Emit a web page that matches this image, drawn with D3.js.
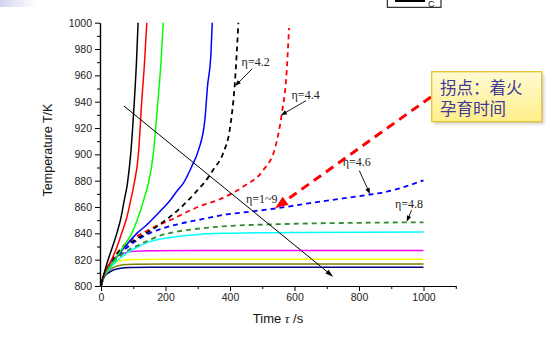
<!DOCTYPE html>
<html><head><meta charset="utf-8">
<script src="https://cdn.jsdelivr.net/npm/d3@7"></script>
<style>body{margin:0;background:#fff}svg{display:block}</style>
</head><body><svg id="c" width="559" height="340"></svg>
<script>
// ---- data: [time s, temperature K] ----
const blackSolid = [[0,800],[4,805],[10,810],[22,820],[36,830],[49,840],[62,852],[72,865],[82,878],[92,900],[103,939],[110,970],[115,1000]];
const redSolid = [[0,800],[5,805],[12,810],[33,820],[50,830],[64,840],[80,852],[92,865],[103,878],[116,900],[126,939],[135,970],[142,1000]];
const greenSolid = [[0,800],[5,805],[15,810],[43,820],[70,830],[95,840],[112,850],[126,860],[138,870],[147,878],[162,900],[176,939],[186,970],[193,1000]];
const blueSolid = [[0,800],[5,805],[15,810],[43,820],[84,832.7],[111,840],[140,846],[167,852.6],[192,859],[214,865],[235,872],[255,878],[281,890.6],[302,903],[322,926],[330,951],[341,977],[345,1000]];
const blackDashed = [[0,800],[10,808],[30,818],[60,827],[105,835],[146,841],[180,846.5],[214,852.6],[245,859],[270,865],[300,873],[322,879],[350,889],[379,901],[400,920],[415,954],[426,1000]];
const redDashed = [[0,800],[10,808],[30,818],[60,828],[100,836],[136,841],[175,846],[214,850],[260,855.5],[300,860],[369,866],[441,875.5],[503,888],[540,905],[560,930],[576,964],[583,996]];
const blueDashed = [[0,800],[10,808],[30,817],[60,825],[90,831],[116,835.5],[150,840],[188,843.5],[240,847],[307,850.5],[379,854],[462,856.5],[545,859],[648,863],[750,866.5],[834,869.5],[875,871],[937,875],[1000,880.3]];
const greenDashed = [[0,800],[10,808],[30,816],[60,823],[90,828],[116,831],[150,835],[188,838.7],[240,841.5],[300,843.5],[379,845.3],[555,847],[800,848],[1000,848.4]];
const cyanSolid = [[0,800],[8,806],[23,812],[45,818],[64,822],[90,826.5],[116,830],[150,833.5],[188,835.8],[250,838],[291,839],[379,840],[600,840.7],[1000,841]];
const magentaSolid = [[0,800],[6,806],[12,810],[33,819],[64,824.5],[100,826.3],[150,826.8],[300,826.9],[1000,826.9]];
const yellowSolid = [[0,800],[5,805],[12,809.5],[25,814],[45,817.5],[70,819.5],[100,820.2],[200,820.4],[1000,820.4]];
const oliveSolid = [[0,800],[5,804.5],[12,808.5],[25,812],[45,814.8],[70,816.2],[100,816.6],[200,816.7],[1000,816.7]];
const navySolid = [[0,800],[5,804],[12,807.5],[23,810],[40,812.3],[60,813.5],[90,814],[150,814.2],[1000,814.2]];

const yTicks = [800,820,840,860,880,900,920,940,960,980,1000];
const yMinor = [810,830,850,870,890,910,930,950,970,990];
const xTicks = [0,200,400,600,800,1000];
const xMinor = [100,300,500,700,900,1100];

const series = [
  {d: navySolid, c:"#000080"},
  {d: oliveSolid, c:"#808000"},
  {d: yellowSolid, c:"#ffff00"},
  {d: magentaSolid, c:"#ff00ff"},
  {d: cyanSolid, c:"#00ffff"},
  {d: greenDashed, c:"#2e8b2e", dash:true},
  {d: blueDashed, c:"#0000ff", dash:true},
  {d: redDashed, c:"#ff0000", dash:true},
  {d: blackDashed, c:"#000000", dash:true},
  {d: blueSolid, c:"#0000ff"},
  {d: greenSolid, c:"#00ff00"},
  {d: redSolid, c:"#ff0000"},
  {d: blackSolid, c:"#000000"}
];

const svg = d3.select("#c");
const x = d3.scaleLinear().domain([0,1100]).range([101,455.75]);
const y = d3.scaleLinear().domain([800,1000]).range([286,22.7]);

// faint top-left artifact
const defs = svg.append("defs");
const g1 = defs.append("linearGradient").attr("id","tl").attr("x1",0).attr("x2",1);
g1.append("stop").attr("offset",0).attr("stop-color","#d4d4f0");
g1.append("stop").attr("offset",1).attr("stop-color","#ffffff");
svg.append("rect").attr("x",0).attr("y",0).attr("width",36).attr("height",7).attr("fill","url(#tl)");

const g2 = defs.append("linearGradient").attr("id","cb").attr("x1",0).attr("x2",0).attr("y1",0).attr("y2",1);
g2.append("stop").attr("offset",0).attr("stop-color","#fffbd2");
g2.append("stop").attr("offset",1).attr("stop-color","#ffee8a");
const f = defs.append("filter").attr("id","sh").attr("x","-20%").attr("y","-20%").attr("width","150%").attr("height","150%");
f.append("feGaussianBlur").attr("stdDeviation",1.5);

// clip
defs.append("clipPath").attr("id","clip").append("rect")
  .attr("x",100).attr("y",y(1000)-1).attr("width",360).attr("height",y(800)-y(1000)+1);

// curves
const line = d3.line().x(d=>x(d[0])).y(d=>y(d[1])).curve(d3.curveMonotoneX);
const cg = svg.append("g").attr("clip-path","url(#clip)");
series.forEach(s=>{
  cg.append("path").attr("d",line(s.d)).attr("fill","none")
    .attr("stroke",s.c).attr("stroke-width",s.dash?1.8:1.5)
    .attr("stroke-dasharray",s.dash?"5,4":null);
});

// axes
const fontAx = "'Liberation Sans', Arial, sans-serif";
svg.append("g").attr("transform","translate(100,0)")
  .call(d3.axisLeft(y).tickValues(yTicks).tickSize(5).tickSizeOuter(0).tickPadding(3).tickFormat(d3.format("d")));
svg.append("g").attr("transform","translate(100,0)")
  .call(d3.axisLeft(y).tickValues(yMinor).tickSize(3).tickSizeOuter(0).tickFormat(""));
svg.append("g").attr("transform","translate(0,286)")
  .call(d3.axisBottom(x).tickValues(xTicks).tickSize(5).tickSizeOuter(0).tickPadding(3).tickFormat(d3.format("d")));
svg.append("g").attr("transform","translate(0,286)")
  .call(d3.axisBottom(x).tickValues(xMinor).tickSize(3).tickSizeOuter(0).tickFormat(""));
svg.selectAll(".domain").attr("stroke","#000").attr("stroke-width",1.2);
svg.selectAll(".tick line").attr("stroke","#000").attr("stroke-width",1);
svg.selectAll(".tick text").attr("font-family",fontAx).attr("font-size",10.5).attr("fill","#222");

// axis titles
svg.append("text").attr("transform","translate(52,150) rotate(-90)").attr("text-anchor","middle")
  .attr("font-family",fontAx).attr("font-size",12.5).attr("fill","#111").text("Temperature T/K");
const xt = svg.append("text").attr("x",278).attr("y",323).attr("text-anchor","middle")
  .attr("font-family",fontAx).attr("font-size",13).attr("fill","#111");
xt.append("tspan").text("Time ");
xt.append("tspan").attr("font-family","'Liberation Serif', serif").attr("font-style","italic").text("τ");
xt.append("tspan").text(" /s");

// arrows
function arrow(x1,y1,x2,y2,color,w,len,wid,dash){
  const dx=x2-x1, dy=y2-y1, L=Math.hypot(dx,dy), ux=dx/L, uy=dy/L;
  const bx=x2-ux*len, by=y2-uy*len;
  svg.append("line").attr("x1",x1).attr("y1",y1).attr("x2",bx+ux*1).attr("y2",by+uy*1)
    .attr("stroke",color).attr("stroke-width",w).attr("stroke-dasharray",dash||null);
  svg.append("path").attr("d",`M${x2},${y2}L${bx-uy*wid/2},${by+ux*wid/2}L${bx+uy*wid/2},${by-ux*wid/2}Z`).attr("fill",color);
}
// diagonal trend arrow
arrow(x(71.3),y(936.7),x(720),y(807.1),"#000",1,8,5);

// eta labels
const fontSerif = "'Liberation Serif', 'Times New Roman', serif";
const labels = [
  {t:"η=4.2", at:[436,967.1], from:[469,965], to:[415.5,951.9]},
  {t:"η=4.4", at:[591,942], from:[635.7,940.8], to:[558,929.7]},
  {t:"η=4.6", at:[749.5,891.2], from:[801,887.6], to:[834,869.9]},
  {t:"η=1~9", at:[449.6,863]},
  {t:"η=4.8", at:[911.6,859.2], from:[963,857.7], to:[948,848.8]}
];
labels.forEach(l=>{
  svg.append("text").attr("x",x(l.at[0])).attr("y",y(l.at[1])).attr("font-family",fontSerif)
    .attr("font-size",12).attr("fill","#222").text(l.t);
  if(l.from) arrow(x(l.from[0]),y(l.from[1]),x(l.to[0]),y(l.to[1]),"#000",0.9,6,4.5);
});

// red dashed arrow
arrow(x(1023),y(943.6),x(539.5),y(859),"#ff0000",3,13,10,"9,6");

// callout box
svg.append("rect").attr("x",434).attr("y",74).attr("width",110).attr("height",50)
  .attr("fill","#999").attr("opacity",0.5).attr("filter","url(#sh)");
svg.append("rect").attr("x",431.7).attr("y",71.7).attr("width",110).attr("height",50)
  .attr("fill","url(#cb)").attr("stroke","#e6c232").attr("stroke-width",1.3);
const fontCJK = "'Noto Sans CJK SC', sans-serif";
const ct = svg.append("text").attr("font-family",fontCJK).attr("font-size",16.5).attr("fill","#3d3a99");
ct.append("tspan").attr("x",440).attr("y",93.5).text("拐点：着火");
ct.append("tspan").attr("x",440).attr("y",114.5).text("孕育时间");

// top "C" box
svg.append("rect").attr("x",387.3).attr("y",-6).attr("width",53.7).attr("height",13.3)
  .attr("fill","#fff").attr("stroke","#000").attr("stroke-width",1);
svg.append("line").attr("x1",395).attr("x2",425).attr("y1",1).attr("y2",1).attr("stroke","#000").attr("stroke-width",2);
svg.append("text").attr("x",428).attr("y",6.5).attr("font-family",fontAx).attr("font-size",9).attr("fill","#111").text("C");
</script></body></html>
